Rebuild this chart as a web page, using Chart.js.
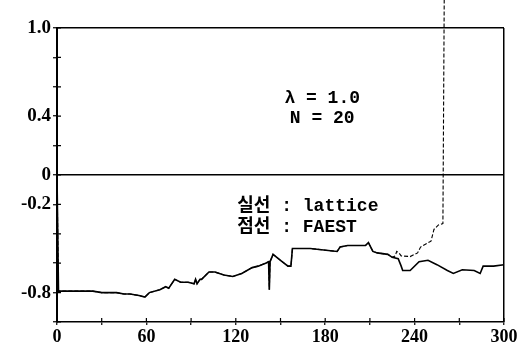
<!DOCTYPE html>
<html>
<head>
<meta charset="utf-8">
<script src="https://cdn.jsdelivr.net/npm/chart.js@4.4.1/dist/chart.umd.min.js"></script>
<style>
html, body { margin: 0; padding: 0; background: #fff; }
canvas { display: block; }
</style>
</head>
<body>
<canvas id="chart" width="522" height="348"></canvas>
<script>
// values
const latticeX = [0, 1, 24, 30, 40, 45, 49, 55, 59, 62, 69, 73, 75, 79, 83, 88, 92, 93, 94, 96, 97, 102, 106, 112, 118, 124, 131, 135, 140, 142, 142.5, 143, 145, 150, 155, 157, 158, 161, 170, 179, 188, 190, 195, 201, 207, 209, 212, 215, 222, 225, 229, 231, 232, 237, 243, 249, 255, 262, 266, 272, 280, 284, 286, 293, 300];
const latticeY = [0, -0.79, -0.79, -0.80, -0.80, -0.81, -0.81, -0.82, -0.83, -0.80, -0.78, -0.76, -0.77, -0.71, -0.73, -0.73, -0.74, -0.71, -0.74, -0.71, -0.71, -0.66, -0.66, -0.68, -0.69, -0.67, -0.63, -0.62, -0.60, -0.59, -0.78, -0.59, -0.54, -0.58, -0.62, -0.62, -0.50, -0.50, -0.50, -0.51, -0.52, -0.49, -0.48, -0.48, -0.48, -0.46, -0.52, -0.53, -0.54, -0.56, -0.57, -0.62, -0.65, -0.65, -0.59, -0.58, -0.61, -0.65, -0.67, -0.645, -0.65, -0.67, -0.62, -0.62, -0.61];

const faestX = [0, 1, 24, 30, 40, 45, 49, 55, 59, 62, 69, 73, 75, 79, 83, 88, 92, 93, 94, 96, 97, 102, 106, 112, 118, 124, 131, 135, 140, 142, 142.5, 143, 145, 150, 155, 157, 158, 161, 170, 179, 188, 190, 195, 201, 207, 209, 212, 215, 222, 225, 227, 228, 229.5, 231, 237, 242, 244, 251, 253, 256, 259, 260];
const faestY = [0, -0.79, -0.79, -0.80, -0.80, -0.81, -0.81, -0.82, -0.83, -0.80, -0.78, -0.76, -0.77, -0.71, -0.73, -0.73, -0.74, -0.71, -0.74, -0.71, -0.71, -0.66, -0.66, -0.68, -0.69, -0.67, -0.63, -0.62, -0.60, -0.59, -0.78, -0.59, -0.54, -0.58, -0.62, -0.62, -0.50, -0.50, -0.50, -0.51, -0.52, -0.49, -0.48, -0.48, -0.48, -0.46, -0.52, -0.53, -0.54, -0.56, -0.55, -0.52, -0.53, -0.55, -0.555, -0.53, -0.49, -0.45, -0.37, -0.34, -0.33, 1.4];

const xLabelValues = [0, 60, 120, 180, 240, 300];
const yLabelValues = [1.0, 0.4, 0, -0.2, -0.8];
const yLabelTexts = ["1.0", "0.4", "0", "-0.2", "-0.8"];

const notes = [
	{ text: "λ = 1.0", x: 178, y: 0.52, align: "center" },
	{ text: "N = 20", x: 178, y: 0.385, align: "center" },
	{ text: "실선 : lattice", x: 121, y: -0.214, align: "left" },
	{ text: "점선 : FAEST", x: 121, y: -0.357, align: "left" },
];

function toPoints(xs, ys) {
	return xs.map((x, i) => ({ x, y: ys[i] }));
}

const NUM_FONT = "'Liberation Serif', 'DejaVu Serif', serif";
const TXT_FONT = "'Liberation Mono', 'Noto Sans CJK KR', monospace";

// "+" shaped ticks: chart.js draws the outer half, this draws the inner half
const innerTicks = {
	id: "innerTicks",
	afterDraw(chart) {
		const { ctx, chartArea, scales } = chart;
		ctx.save();
		ctx.strokeStyle = "#000";
		ctx.lineWidth = 1.2;
		ctx.beginPath();
		scales.y.ticks.forEach((t) => {
			const py = scales.y.getPixelForValue(t.value);
			ctx.moveTo(chartArea.left, py);
			ctx.lineTo(chartArea.left + 4, py);
		});
		scales.x.ticks.forEach((t) => {
			const px = scales.x.getPixelForValue(t.value);
			ctx.moveTo(px, chartArea.bottom);
			ctx.lineTo(px, chartArea.bottom - 4);
		});
		ctx.stroke();
		ctx.restore();
	},
};

const noteText = {
	id: "noteText",
	afterDatasetsDraw(chart) {
		const { ctx, scales } = chart;
		ctx.save();
		ctx.fillStyle = "#000";
		ctx.font = "bold 18px " + TXT_FONT;
		ctx.textBaseline = "middle";
		notes.forEach((n) => {
			ctx.textAlign = n.align;
			ctx.fillText(n.text, scales.x.getPixelForValue(n.x), scales.y.getPixelForValue(n.y));
		});
		ctx.restore();
	},
};

function frameColor(values) {
	return (c) => {
		const v = Math.round(c.tick.value * 10) / 10;
		return values.includes(v) ? "#000" : "rgba(0,0,0,0)";
	};
}

new Chart(document.getElementById("chart"), {
	type: "line",
	data: {
		datasets: [
			{
				label: "FAEST",
				data: toPoints(faestX, faestY),
				borderColor: "#000",
				borderWidth: 1.1,
				borderDash: [4, 2],
				pointRadius: 0,
				tension: 0,
				clip: false,
			},
			{
				label: "lattice",
				data: toPoints(latticeX, latticeY),
				borderColor: "#000",
				borderWidth: 1.6,
				pointRadius: 0,
				tension: 0,
			},
		],
	},
	options: {
		responsive: false,
		animation: false,
		devicePixelRatio: 1,
		layout: { padding: { top: 28, right: 18, left: 0, bottom: 0 } },
		plugins: {
			legend: { display: false },
			tooltip: { enabled: false },
		},
		scales: {
			x: {
				type: "linear",
				min: 0,
				max: 300,
				afterFit(scale) { scale.height = 26; },
				ticks: {
					stepSize: 30,
					autoSkip: false,
					maxRotation: 0,
					color: "#000",
					padding: 2,
					font: { family: NUM_FONT, size: 18, weight: "bold" },
					callback: (v) => (xLabelValues.includes(v) ? String(v) : ""),
				},
				grid: {
					color: frameColor([300]),
					lineWidth: 1.5,
					tickColor: "#000",
					tickLength: 3,
					tickWidth: 1.2,
				},
				border: { color: "#000", width: 1.6 },
			},
			y: {
				type: "linear",
				min: -1,
				max: 1,
				afterFit(scale) { scale.width = 57; },
				ticks: {
					stepSize: 0.2,
					autoSkip: false,
					color: "#000",
					padding: 2,
					font: { family: NUM_FONT, size: 19, weight: "bold" },
					callback: (v) => {
						const r = Math.round(v * 10) / 10;
						const i = yLabelValues.indexOf(r);
						return i >= 0 ? yLabelTexts[i] : "";
					},
				},
				grid: {
					color: frameColor([1, 0]),
					lineWidth: 1.5,
					tickColor: "#000",
					tickLength: 4,
					tickWidth: 1.2,
				},
				border: { color: "#000", width: 2 },
			},
		},
	},
	plugins: [innerTicks, noteText],
});
</script>
</body>
</html>
